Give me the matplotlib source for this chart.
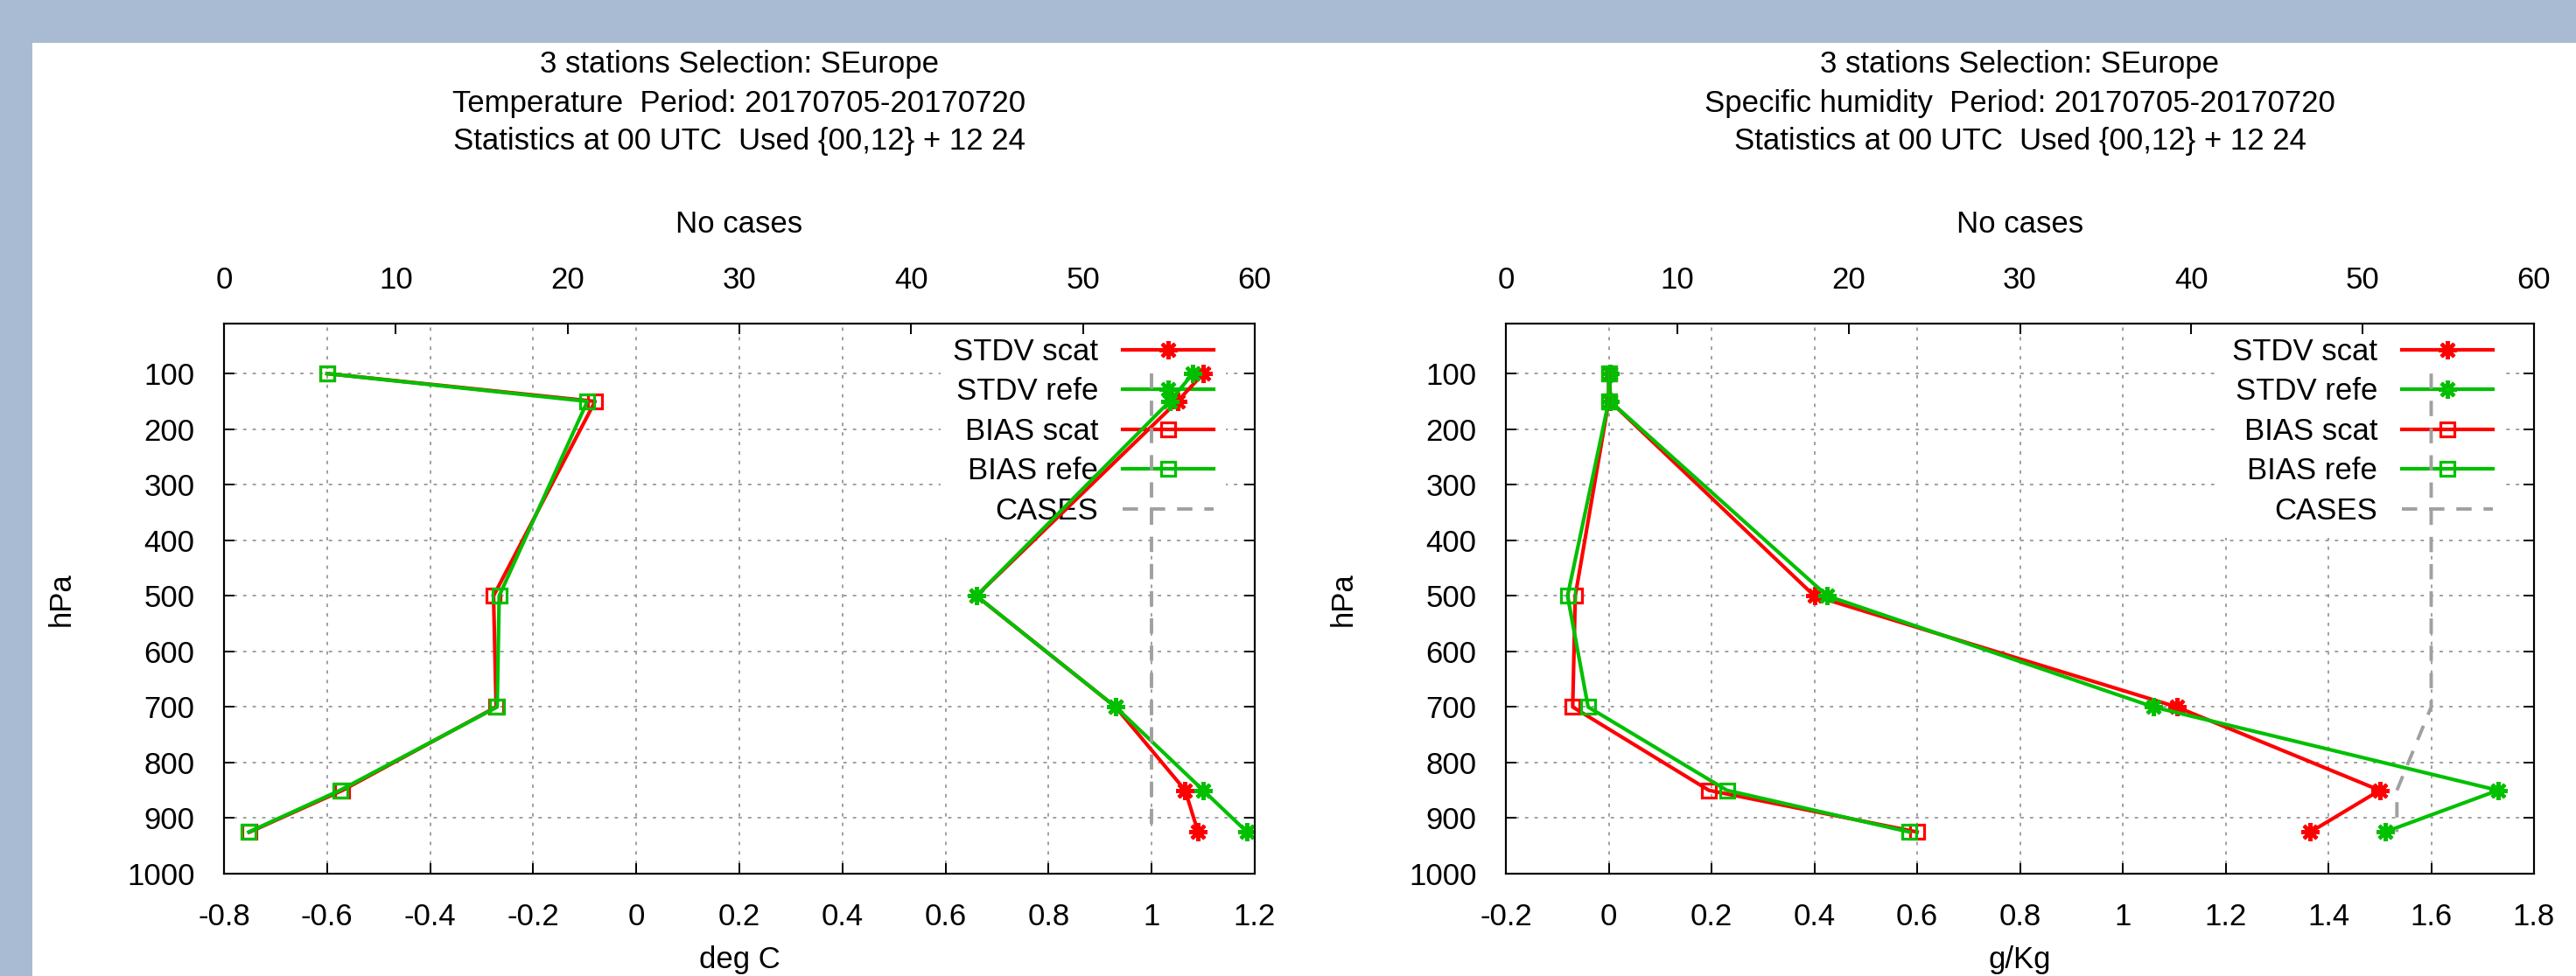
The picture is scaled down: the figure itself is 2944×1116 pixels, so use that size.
import matplotlib
matplotlib.use('Agg')
import matplotlib.pyplot as plt
from matplotlib.patches import Rectangle
from matplotlib.ticker import MultipleLocator, FuncFormatter

plt.rcParams['font.family'] = ['Liberation Sans', 'DejaVu Sans']
plt.rcParams['axes.unicode_minus'] = False

W, H = 2944, 1116
FS = 25

# pressure levels (hPa)
levels = [100, 150, 500, 700, 850, 925]

# Temperature, deg C
t_stdv_scat = [1.10, 1.05, 0.66, 0.93, 1.065, 1.09]
t_stdv_refe = [1.08, 1.035, 0.66, 0.93, 1.10, 1.185]
t_bias_scat = [-0.60, -0.08, -0.277, -0.272, -0.57, -0.75]
t_bias_refe = [-0.60, -0.095, -0.266, -0.27, -0.575, -0.752]
t_cases = [54, 54, 54, 54, 54, 54]

# Specific humidity, g/Kg
q_stdv_scat = [0.002, 0.003, 0.40, 1.105, 1.50, 1.365]
q_stdv_refe = [0.002, 0.003, 0.425, 1.06, 1.73, 1.51]
q_bias_scat = [0.0, 0.0, -0.065, -0.07, 0.195, 0.60]
q_bias_refe = [0.0, 0.0, -0.08, -0.04, 0.23, 0.585]
q_cases = [54, 54, 54, 54, 52, 52]

RED = '#ff0000'
GREEN = '#00c000'
GRAY = '#a0a0a0'
star = (8, 2, 0)

fmt = FuncFormatter(lambda v, p: '%g' % round(v, 6))

fig = plt.figure(figsize=(W / 100, H / 100), dpi=100, facecolor='#a9bbd3')
fig.patches.append(Rectangle((37 / W, 0), 1, 1 - 49 / H, transform=fig.transFigure,
                             facecolor='white', edgecolor='none', zorder=-1))


def fx(px):
    return px / W


def fy(py):
    return 1 - py / H


def panel(left, width, var_name, unit, xlim, stdv_s, stdv_r, bias_s, bias_r, cases):
    ax = fig.add_axes([fx(left), fy(999), width / W, 629 / H])
    ax.set_axisbelow(True)
    ax.plot(stdv_s, levels, color=RED, lw=3, marker=star, ms=15, mew=3, label='STDV scat')
    ax.plot(stdv_r, levels, color=GREEN, lw=3, marker=star, ms=15, mew=3, label='STDV refe')
    ax.plot(bias_s, levels, color=RED, lw=3, marker='s', ms=11, mew=2.3, mfc='none', label='BIAS scat')
    ax.plot(bias_r, levels, color=GREEN, lw=3, marker='s', ms=11, mew=2.3, mfc='none', label='BIAS refe')
    ax.set_xlim(xlim)
    ax.set_ylim(1000, 10)
    ax.xaxis.set_major_locator(MultipleLocator(0.2))
    ax.xaxis.set_major_formatter(fmt)
    ax.yaxis.set_major_locator(MultipleLocator(100))
    ax.grid(True, color=GRAY, lw=1.4, ls=(0, (2, 3.6)))
    ax.tick_params(direction='in', length=8.5, width=1.4, labelsize=FS, pad=24,
                   top=True, right=True, labeltop=False, labelright=False)
    for s in ax.spines.values():
        s.set_linewidth(1.5)

    # number of cases on the top axis
    ax2 = ax.twiny()
    ax2.set_zorder(ax.get_zorder() + 1)
    ax2.patch.set_visible(False)
    ax2.plot(cases, levels, color=GRAY, lw=2.8, ls=(0, (4.5, 3.5)), label='CASES')
    ax2.set_xlim(0, 60)
    ax2.xaxis.set_major_locator(MultipleLocator(10))
    ax2.tick_params(direction='in', length=8.5, width=1.4, labelsize=FS, pad=24,
                    top=True, bottom=False, labelbottom=False, labeltop=True)
    for s in ax2.spines.values():
        s.set_linewidth(1.5)

    h1, l1 = ax.get_legend_handles_labels()
    h2, l2 = ax2.get_legend_handles_labels()
    leg = ax.legend(h1 + h2, l1 + l2, loc='upper right',
                    bbox_to_anchor=(1 - 33 / width, 1 - 2 / 629), borderaxespad=0,
                    markerfirst=False, numpoints=1, fontsize=FS, handlelength=3.0,
                    handletextpad=0.8, labelspacing=0.36, borderpad=0.4,
                    frameon=True, fancybox=False, facecolor='white', edgecolor='none',
                    framealpha=1)
    for col in leg._legend_box._children[1]._children:
        col.align = 'right'
    leg.set_zorder(1.5)

    cx = left + width / 2
    fig.text(fx(cx), fy(73), '3 stations Selection: SEurope', ha='center', va='center', fontsize=FS)
    fig.text(fx(cx), fy(118), var_name + '  Period: 20170705-20170720', ha='center', va='center', fontsize=FS)
    fig.text(fx(cx), fy(162), 'Statistics at 00 UTC  Used {00,12} + 12 24', ha='center', va='center', fontsize=FS)
    fig.text(fx(cx), fy(257), 'No cases', ha='center', va='center', fontsize=FS)
    fig.text(fx(cx), fy(1114), unit, ha='center', va='bottom', fontsize=FS)
    fig.text(fx(left - 186), fy(685), 'hPa', ha='center', va='center', rotation=90, fontsize=FS)
    return ax


panel(256, 1178, 'Temperature', 'deg C', (-0.8, 1.2),
      t_stdv_scat, t_stdv_refe, t_bias_scat, t_bias_refe, t_cases)
panel(1721, 1175, 'Specific humidity', 'g/Kg', (-0.2, 1.8),
      q_stdv_scat, q_stdv_refe, q_bias_scat, q_bias_refe, q_cases)

fig.savefig('out.png', dpi=100, facecolor=fig.get_facecolor())
